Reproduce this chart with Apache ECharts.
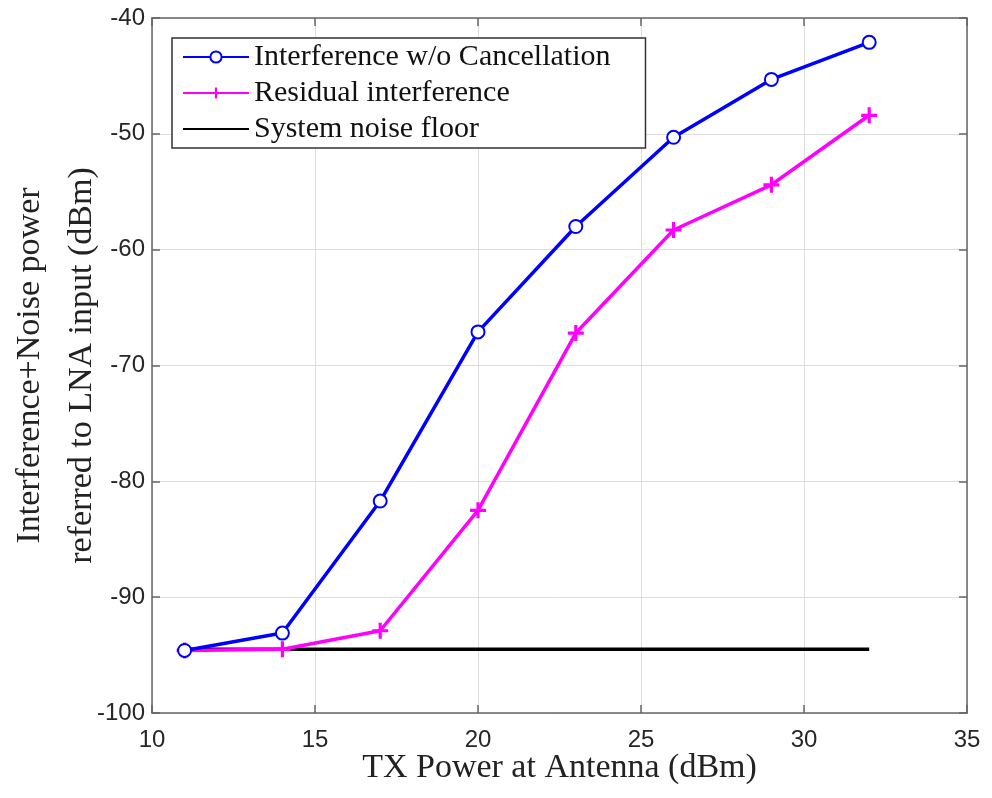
<!DOCTYPE html>
<html>
<head>
<meta charset="utf-8">
<script src="https://cdn.jsdelivr.net/npm/echarts@6/dist/echarts.min.js"></script>
<style>
  html, body { margin: 0; padding: 0; background: #fff; }
  #chart { width: 992px; height: 798px; }
</style>
</head>
<body>
<div id="chart"></div>
<script>
// TX power at the antenna (dBm)
const txPower = [11, 14, 17, 20, 23, 26, 29, 32];
// Interference without cancellation (dBm)
const interferenceNoCancel = [-94.6, -93.1, -81.7, -67.1, -58.0, -50.3, -45.3, -42.1];
// Residual interference after cancellation (dBm)
const residualInterference = [-94.6, -94.5, -92.9, -82.5, -67.2, -58.3, -54.4, -48.4];
// System noise floor (dBm)
const noiseFloorX = [11, 32];
const noiseFloor = [-94.5, -94.5];

const xTicks = { min: 10, max: 35, interval: 5 };
const yTicks = { min: -100, max: -40, interval: 10 };

const pairs = (xs, ys) => xs.map((x, i) => [x, ys[i]]);

const plusPath = 'path://M4,0H6V4H10V6H6V10H4V6H0V4H4Z';
const serif = '"Liberation Serif", "DejaVu Serif", serif';
const sans = '"Liberation Sans", Arial, sans-serif';
const boxColor = '#666666';

const baseAxis = {
  axisLine: { show: true, onZero: false, lineStyle: { color: boxColor, width: 1.5 } },
  axisTick: { show: true, inside: true, length: 8, lineStyle: { color: boxColor, width: 1.5 } },
  splitLine: { show: false }
};

const chart = echarts.init(document.getElementById('chart'), null, { renderer: 'canvas' });
chart.setOption({
  animation: false,
  backgroundColor: '#fff',
  grid: { left: 152, right: 25, top: 18, bottom: 85, containLabel: false, outerBoundsMode: 'none' },
  legend: {
    orient: 'vertical',
    left: 172,
    top: 38,
    padding: [4, 35, 4, 10],
    backgroundColor: '#fff',
    borderColor: '#333',
    borderWidth: 1.5,
    itemWidth: 66,
    itemHeight: 14,
    itemGap: 6,
    textStyle: { fontFamily: serif, fontSize: 30, color: '#111' },
    data: [
      'Interference w/o Cancellation',
      'Residual interference',
      { name: 'System noise floor', itemStyle: { opacity: 0 } }
    ]
  },
  xAxis: [
    Object.assign({}, baseAxis, {
      type: 'value', position: 'bottom',
      min: xTicks.min, max: xTicks.max, interval: xTicks.interval,
      name: 'TX Power at Antenna (dBm)',
      nameLocation: 'middle', nameGap: 38, nameMoveOverlap: false,
      nameTextStyle: { fontFamily: serif, fontSize: 34, color: '#222' },
      axisLabel: { fontFamily: sans, fontSize: 24, color: '#262626', margin: 15 },
      splitLine: { show: true, lineStyle: { color: '#dedede', width: 1 } }
    }),
    Object.assign({}, baseAxis, {
      type: 'value', position: 'top',
      min: xTicks.min, max: xTicks.max, interval: xTicks.interval,
      axisLabel: { show: false }
    })
  ],
  yAxis: [
    Object.assign({}, baseAxis, {
      type: 'value', position: 'left',
      min: yTicks.min, max: yTicks.max, interval: yTicks.interval,
      name: 'Interference+Noise power\nreferred to LNA input (dBm)',
      nameLocation: 'middle', nameGap: 44, nameMoveOverlap: false,
      nameTextStyle: { fontFamily: serif, fontSize: 34, color: '#222', lineHeight: 52 },
      axisLabel: { fontFamily: sans, fontSize: 24, color: '#262626', margin: 7 },
      splitLine: { show: true, lineStyle: { color: '#dedede', width: 1 } }
    }),
    Object.assign({}, baseAxis, {
      type: 'value', position: 'right',
      min: yTicks.min, max: yTicks.max, interval: yTicks.interval,
      axisLabel: { show: false }
    })
  ],
  series: [
    {
      name: 'System noise floor',
      type: 'line',
      data: pairs(noiseFloorX, noiseFloor),
      showSymbol: false,
      symbol: 'none',
      z: 2,
      lineStyle: { color: '#000', width: 3.5 },
      itemStyle: { color: '#000' }
    },
    {
      name: 'Residual interference',
      type: 'line',
      data: pairs(txPower, residualInterference),
      symbol: plusPath,
      symbolSize: 16,
      z: 3,
      lineStyle: { color: '#ff00ff', width: 3.5 },
      itemStyle: { color: '#ff00ff' }
    },
    {
      name: 'Interference w/o Cancellation',
      type: 'line',
      data: pairs(txPower, interferenceNoCancel),
      symbol: 'emptyCircle',
      symbolSize: 13,
      z: 4,
      lineStyle: { color: '#0000ff', width: 3.5 },
      itemStyle: { color: '#0000ff', borderColor: '#0000ff', borderWidth: 3 }
    }
  ]
});
</script>
</body>
</html>
